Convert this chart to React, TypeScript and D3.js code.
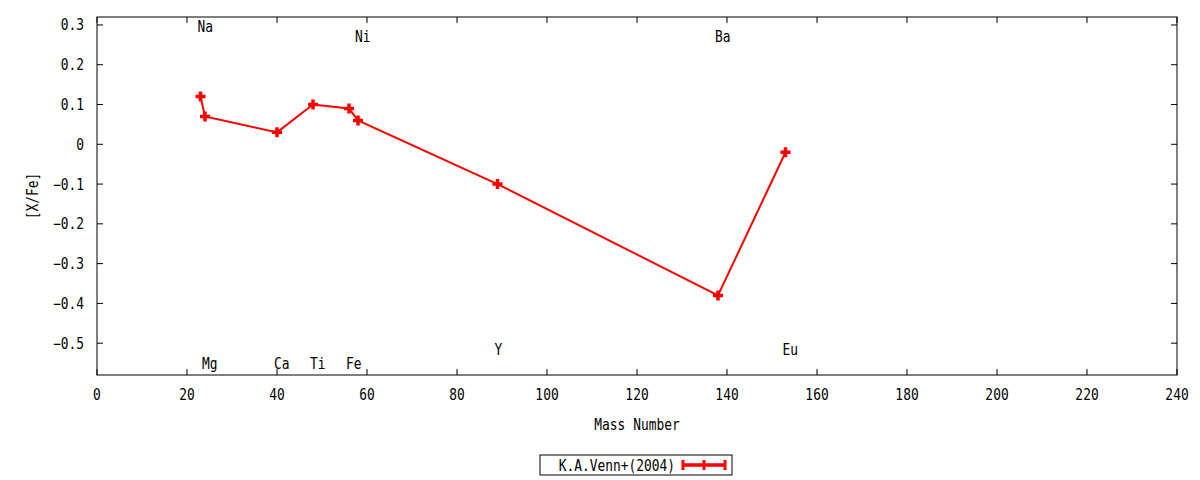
import { useEffect, useRef } from 'react'
import * as d3 from 'd3'

// Venn et al. (2004) abundances vs mass number
const elements = ['Na', 'Mg', 'Ca', 'Ti', 'Fe', 'Ni', 'Y', 'Ba', 'Eu']
const massNumbers = [23, 24, 40, 48, 56, 58, 89, 138, 153]
const xFe = [0.12, 0.07, 0.03, 0.10, 0.09, 0.06, -0.10, -0.38, -0.02]
// label heights in data units (as placed on the plot)
const labelY = [0.295, -0.552, -0.552, -0.552, -0.552, 0.27, -0.517, 0.27, -0.517]

const xTicks = d3.range(0, 241, 20)
const yTicks = [-0.5, -0.4, -0.3, -0.2, -0.1, 0, 0.1, 0.2, 0.3]
const seriesName = 'K.A.Venn+(2004)'

const W = 1200, H = 480
const M = { t: 17, r: 23, b: 105, l: 97 }
const FONT = '"DejaVu Sans Mono", monospace'

export default function App() {
  const svgRef = useRef<SVGSVGElement>(null)

  useEffect(() => {
    const svg = d3.select(svgRef.current)
    svg.selectAll('*').remove()
    const iw = W - M.l - M.r, ih = H - M.t - M.b

    const x = d3.scaleLinear().domain([0, 240]).range([M.l, M.l + iw])
    const y = d3.scaleLinear().domain([-0.58, 0.32]).range([M.t + ih, M.t])

    svg.append('rect').attr('width', W).attr('height', H).attr('fill', '#fff')

    // gnuplot-ish narrow mono text
    const txt = (px: number, py: number, s: string, anchor = 'start', rot = 0) =>
      svg.append('text')
        .attr('transform', `translate(${px},${py}) rotate(${rot}) scale(0.86,1)`)
        .attr('text-anchor', anchor).attr('font-family', FONT).attr('font-size', 15)
        .attr('fill', '#000').text(s)

    const tl = 6
    // ticks (mirrored, inward)
    xTicks.forEach(t => {
      svg.append('line').attr('x1', x(t)).attr('x2', x(t)).attr('y1', M.t + ih).attr('y2', M.t + ih - tl).attr('stroke', '#000')
      svg.append('line').attr('x1', x(t)).attr('x2', x(t)).attr('y1', M.t).attr('y2', M.t + tl).attr('stroke', '#000')
      txt(x(t), M.t + ih + 25, String(t), 'middle')
    })
    yTicks.forEach(t => {
      svg.append('line').attr('x1', M.l).attr('x2', M.l + tl).attr('y1', y(t)).attr('y2', y(t)).attr('stroke', '#000')
      svg.append('line').attr('x1', M.l + iw).attr('x2', M.l + iw - tl).attr('y1', y(t)).attr('y2', y(t)).attr('stroke', '#000')
      txt(M.l - 13, y(t) + 5.5, t === 0 ? '0' : d3.format('.1f')(t), 'end')
    })
    svg.append('rect').attr('x', M.l).attr('y', M.t).attr('width', iw).attr('height', ih)
      .attr('fill', 'none').attr('stroke', '#000').attr('stroke-width', 1)

    // axis titles
    txt(x(120), 430, 'Mass Number', 'middle')
    txt(38, y(-0.13), '[X/Fe]', 'middle', -90)

    // element labels
    elements.forEach((el, i) => {
      txt(x(massNumbers[i]) - 3, y(labelY[i]) + 5.5, el)
    })

    const pts = massNumbers.map((m, i) => [m, xFe[i]] as [number, number])
    const line = d3.line<[number, number]>().x(d => x(d[0])).y(d => y(d[1]))
    svg.append('path').datum(pts).attr('d', line).attr('fill', 'none').attr('stroke', '#f00').attr('stroke-width', 2)

    const plus = (cx: number, cy: number) => {
      const s = 5
      svg.append('path').attr('d', `M${cx - s},${cy}H${cx + s}M${cx},${cy - s}V${cy + s}`)
        .attr('stroke', '#f00').attr('stroke-width', 3.5).attr('fill', 'none')
    }
    pts.forEach(d => plus(x(d[0]), y(d[1])))

    // legend
    const lx = 540, ly = 455, lw = 192, lh = 20
    svg.append('rect').attr('x', lx).attr('y', ly).attr('width', lw).attr('height', lh)
      .attr('fill', '#fff').attr('stroke', '#000')
    txt(675, ly + lh / 2 + 5.5, seriesName, 'end')
    svg.append('line').attr('x1', 683).attr('x2', 725).attr('y1', ly + lh / 2).attr('y2', ly + lh / 2)
      .attr('stroke', '#f00').attr('stroke-width', 3.5)
    ;[683, 704, 725].forEach(px => {
      svg.append('line').attr('x1', px).attr('x2', px).attr('y1', ly + lh / 2 - 5).attr('y2', ly + lh / 2 + 5)
        .attr('stroke', '#f00').attr('stroke-width', 3)
    })
  }, [])

  return (
    <div style={{ position: 'absolute', left: 0, top: 0 }}>
      <svg ref={svgRef} width={W} height={H} style={{ display: 'block' }} />
    </div>
  )
}
